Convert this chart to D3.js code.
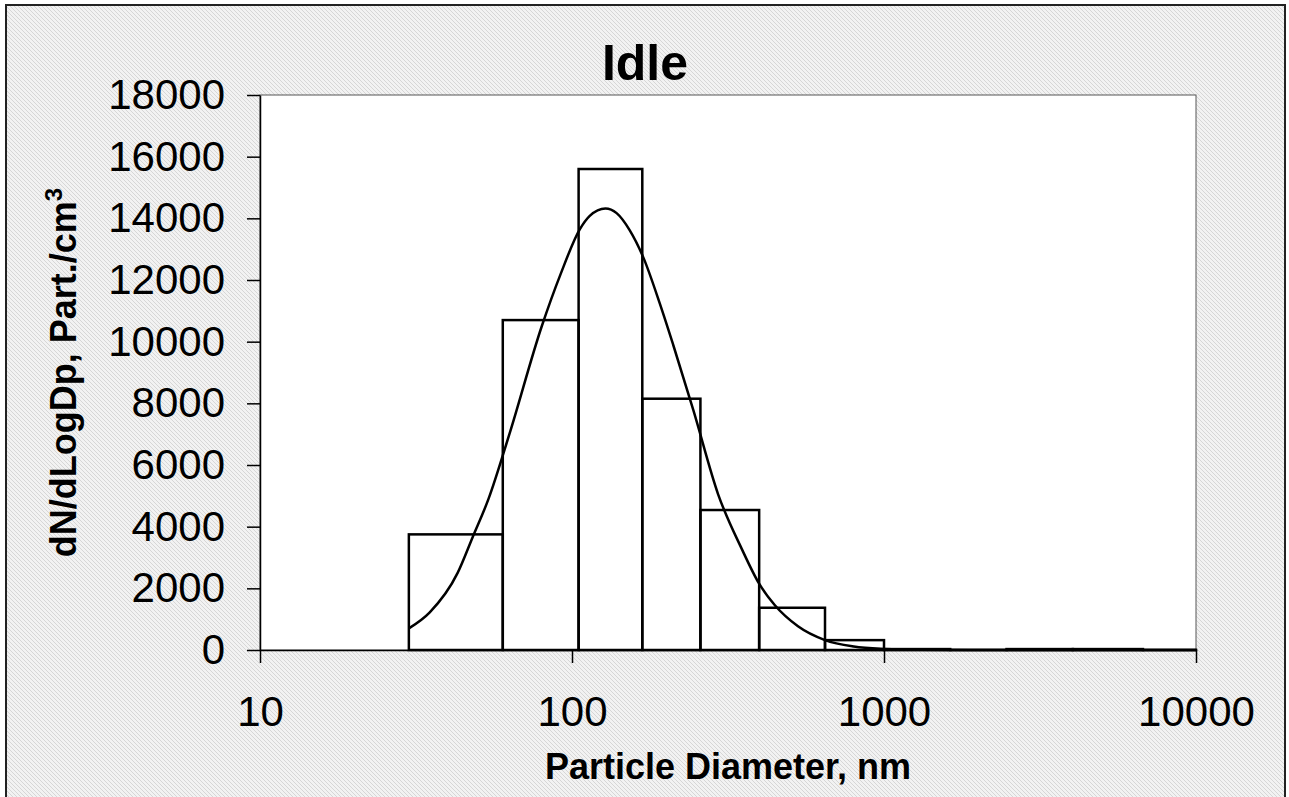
<!DOCTYPE html>
<html>
<head>
<meta charset="utf-8">
<script src="https://cdn.jsdelivr.net/npm/d3@7"></script>
<style>
  html, body { margin: 0; padding: 0; background: #fff; }
  svg { display: block; }
</style>
</head>
<body>
<div id="chart"></div>
<script>
// Idle - particle size distribution (histogram + lognormal fit)
(function() {
  'use strict';

  // Bin edges (nm) and dN/dLogDp per bin
  const binEdges = [30, 60, 105, 168, 258, 398, 647, 1000, 1630, 2470, 4030, 6760, 10000];
  const binValues = [3750, 10700, 15600, 8150, 4540, 1370, 320, 30, 5, 30, 30, 5];

  // Fitted curve
  const fitDiameter = [30, 35, 43, 48, 54, 63, 80, 92, 106, 114, 128, 139, 153, 169, 191, 211, 245, 294, 350, 398, 447, 530, 647, 800, 1000, 1300, 2000, 4000, 10000];
  const fitValue = [700, 1220, 2500, 3650, 4900, 7000, 10500, 12200, 13650, 14080, 14320, 14170, 13620, 12750, 11250, 9900, 7770, 5050, 3280, 2150, 1450, 770, 322, 115, 35, 5, 0, 0, 0];

  const yTicks = [0, 2000, 4000, 6000, 8000, 10000, 12000, 14000, 16000, 18000];
  const xTicks = [10, 100, 1000, 10000];

  const width = 1289;
  const height = 797;
  const plot = { left: 260, top: 95, right: 1196, bottom: 650 };
  const font = '"Liberation Sans", Arial, sans-serif';

  const svg = d3.select('#chart')
    .append('svg')
    .attr('width', width)
    .attr('height', height);

  // Hatched background
  const defs = svg.append('defs');
  const pat = defs.append('pattern')
    .attr('id', 'hatch')
    .attr('patternUnits', 'userSpaceOnUse')
    .attr('width', 4)
    .attr('height', 4);
  pat.append('rect').attr('width', 4).attr('height', 4).attr('fill', '#f2f2f2');
  pat.append('path')
    .attr('d', 'M-1,-1L5,5M-1,3L1,5M3,-1L5,1')
    .attr('stroke', '#d6d6d6')
    .attr('stroke-width', 1);

  svg.append('rect')
    .attr('width', width)
    .attr('height', height)
    .attr('fill', '#fff');

  svg.append('rect')
    .attr('x', 6).attr('y', 5)
    .attr('width', 1279).attr('height', 800)
    .attr('fill', 'url(#hatch)')
    .attr('stroke', '#222')
    .attr('stroke-width', 2);

  const x = d3.scaleLog().domain([10, 10000]).range([plot.left, plot.right]);
  const y = d3.scaleLinear().domain([0, 18000]).range([plot.bottom, plot.top]);

  // Plot area
  svg.append('rect')
    .attr('x', plot.left).attr('y', plot.top)
    .attr('width', plot.right - plot.left)
    .attr('height', plot.bottom - plot.top)
    .attr('fill', '#fff')
    .attr('stroke', '#555')
    .attr('stroke-width', 1);

  // Histogram bars
  const bins = binValues.map((v, i) => ({ x0: binEdges[i], x1: binEdges[i + 1], v }));
  svg.append('g')
    .selectAll('rect')
    .data(bins)
    .join('rect')
    .attr('x', d => x(d.x0))
    .attr('y', d => y(d.v))
    .attr('width', d => x(d.x1) - x(d.x0))
    .attr('height', d => y(0) - y(d.v))
    .attr('fill', 'none')
    .attr('stroke', '#000')
    .attr('stroke-width', 2.5);

  // Fit curve
  const line = d3.line()
    .x((d, i) => x(fitDiameter[i]))
    .y(d => y(d))
    .curve(d3.curveMonotoneX);
  svg.append('path')
    .datum(fitValue)
    .attr('d', line)
    .attr('fill', 'none')
    .attr('stroke', '#000')
    .attr('stroke-width', 2.5);

  // Axes
  const yAxis = svg.append('g')
    .attr('transform', `translate(${plot.left},0)`)
    .call(d3.axisLeft(y).tickValues(yTicks).tickSize(13).tickSizeOuter(0).tickPadding(22).tickFormat(d3.format('d')));
  const xAxis = svg.append('g')
    .attr('transform', `translate(0,${plot.bottom})`)
    .call(d3.axisBottom(x).tickValues(xTicks).tickSize(13).tickSizeOuter(0).tickPadding(33).tickFormat(d3.format('d')));

  [yAxis, xAxis].forEach(a => {
    a.select('.domain').attr('stroke', '#000').attr('stroke-width', 1.5);
    a.selectAll('.tick line').attr('stroke', '#000').attr('stroke-width', 1.5);
    a.selectAll('.tick text')
      .attr('fill', '#000')
      .attr('font-family', font)
      .attr('font-size', '42px');
  });

  // Title
  svg.append('text')
    .attr('x', 645).attr('y', 80)
    .attr('text-anchor', 'middle')
    .attr('font-family', font)
    .attr('font-weight', 'bold')
    .attr('font-size', '50px')
    .text('Idle');

  // X axis title
  svg.append('text')
    .attr('x', (plot.left + plot.right) / 2).attr('y', 779)
    .attr('text-anchor', 'middle')
    .attr('font-family', font)
    .attr('font-weight', 'bold')
    .attr('font-size', '36px')
    .text('Particle Diameter, nm');

  // Y axis title
  const yt = svg.append('text')
    .attr('transform', `translate(76,${(plot.top + plot.bottom) / 2}) rotate(-90)`)
    .attr('text-anchor', 'middle')
    .attr('font-family', font)
    .attr('font-weight', 'bold')
    .attr('font-size', '36px');
  yt.append('tspan').text('dN/dLogDp, Part./cm');
  yt.append('tspan').attr('dy', -14).attr('font-size', '24px').text('3');
})();
</script>
</body>
</html>
